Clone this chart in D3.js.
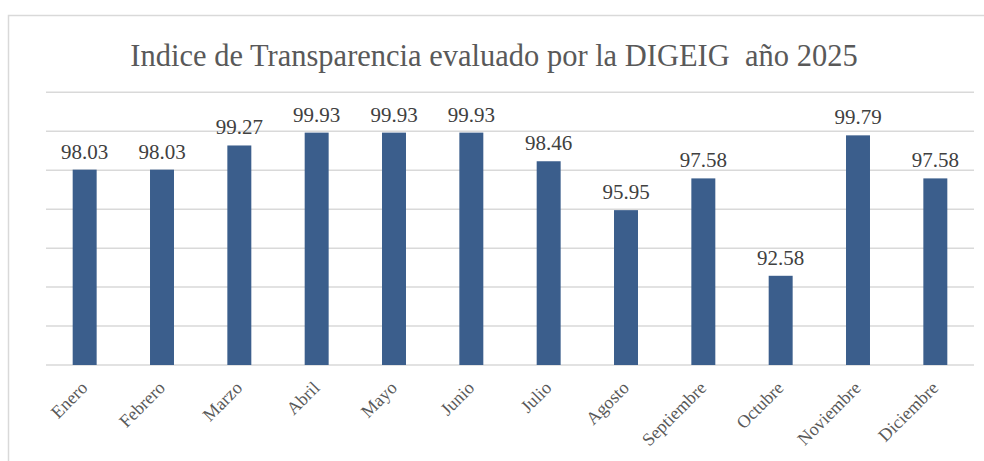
<!DOCTYPE html>
<html>
<head>
<meta charset="utf-8">
<script src="https://cdn.jsdelivr.net/npm/d3@7"></script>
<style>
  body { margin: 0; background: #fff; }
  svg { display: block; }
  svg text { font-family: "Liberation Serif", "Times New Roman", serif; }
</style>
</head>
<body>
<div id="chart"></div>
<script>
// datos del grafico
const months = ["Enero", "Febrero", "Marzo", "Abril", "Mayo", "Junio",
  "Julio", "Agosto", "Septiembre", "Octubre", "Noviembre", "Diciembre"];
const indexValues = [98.03, 98.03, 99.27, 99.93, 99.93, 99.93,
  98.46, 95.95, 97.58, 92.58, 99.79, 97.58];
const gridTicks = [88, 90, 92, 94, 96, 98, 100, 102];
const chartTitle = "Indice de Transparencia evaluado por la DIGEIG  año 2025";

const serif = "Liberation Serif";
const width = 984, height = 461;
const margin = {top: 92.3, right: 10, bottom: 96, left: 46};

const svg = d3.select("#chart").append("svg")
    .attr("width", width)
    .attr("height", height);

// marco del area del grafico
svg.append("rect")
    .attr("x", 8.5)
    .attr("y", 15.5)
    .attr("width", 1000)
    .attr("height", 500)
    .attr("fill", "none")
    .attr("stroke", "#d9d9d9")
    .attr("stroke-width", 1.5);

// titulo (un poco comprimido en horizontal como en el original)
svg.append("text")
    .attr("transform", "translate(494,66) scale(0.953,1)")
    .attr("text-anchor", "middle")
    .attr("font-family", serif)
    .attr("font-size", 32)
    .attr("fill", "#595959")
    .style("white-space", "pre")
    .text(chartTitle);

const x = d3.scaleBand()
    .domain(months)
    .range([margin.left, width - margin.right])
    .paddingInner(0.69)
    .paddingOuter(0.345);

const y = d3.scaleLinear()
    .domain([88, 102])
    .range([height - margin.bottom, margin.top]);

// lineas de cuadricula
svg.append("g")
  .selectAll("line")
  .data(gridTicks)
  .join("line")
    .attr("x1", margin.left)
    .attr("x2", width - margin.right)
    .attr("y1", d => y(d))
    .attr("y2", d => y(d))
    .attr("stroke", "#d9d9d9")
    .attr("stroke-width", 1.5);

// barras
svg.append("g")
  .selectAll("rect")
  .data(indexValues)
  .join("rect")
    .attr("x", (d, i) => x(months[i]))
    .attr("y", d => y(d))
    .attr("width", x.bandwidth())
    .attr("height", d => y(88) - y(d))
    .attr("fill", "#3b5e8c");

// etiquetas de datos
svg.append("g")
    .attr("text-anchor", "middle")
  .selectAll("text")
  .data(indexValues)
  .join("text")
    .attr("x", (d, i) => x(months[i]) + x.bandwidth() / 2)
    .attr("y", d => y(d) - 11)
    .attr("font-family", serif)
    .attr("font-size", 21)
    .attr("fill", "#404040")
    .text(d => d.toFixed(2));

// eje x
const xAxis = svg.append("g")
    .attr("transform", `translate(0,${height - margin.bottom})`)
    .call(d3.axisBottom(x).tickSize(0).tickPadding(0));
xAxis.select(".domain").remove();
xAxis.selectAll("text")
    .attr("font-family", serif)
    .attr("font-size", 18)
    .attr("fill", "#595959")
    .attr("dy", null)
    .attr("y", 0)
    .attr("transform", "translate(4,24) rotate(-45)")
    .style("text-anchor", "end");
</script>
</body>
</html>
